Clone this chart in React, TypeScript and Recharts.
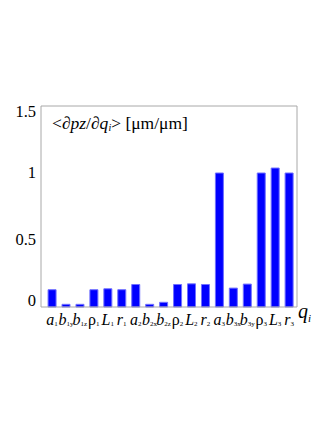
import { BarChart, Bar, XAxis, YAxis } from "recharts";

// parameter symbols and their subscripts
const letters = ["a", "b", "b", "ρ", "L", "r", "a", "b", "b", "ρ", "L", "r", "a", "b", "b", "ρ", "L", "r"];
const subs = ["1", "1y", "1z", "1", "1", "1", "2", "2x", "2z", "2", "2", "2", "3", "3x", "3y", "3", "3", "3"];
const values = [0.129, 0.02, 0.02, 0.129, 0.136, 0.129, 0.168, 0.02, 0.035, 0.168, 0.173, 0.168, 1.0, 0.141, 0.171, 1.0, 1.037, 1.0];
const yTicks = [0, 0.5, 1, 1.5];

const data = letters.map((l, i) => ({ key: `${l}${subs[i]}`, letter: l, sub: subs[i], value: values[i] }));

const serif = "'Liberation Serif', 'DejaVu Serif', serif";
const frame = "#a8a8a8";

const XTick = (props: any) => {
  const { x, y, index } = props;
  const d = data[index];
  const upright = d.letter === "ρ";
  return (
    <text x={x} y={y + 10} textAnchor="middle" style={{ fontFamily: serif }} fill="#000">
      <tspan fontSize={16} fontStyle={upright ? "normal" : "italic"}>{d.letter}</tspan>
      <tspan fontSize={7} dy={1}>{d.sub}</tspan>
    </text>
  );
};

const YTick = (props: any) => {
  const { y, payload } = props;
  const cy = Math.min(Math.max(y, 112), 301);
  return (
    <text x={36} y={cy + 5} textAnchor="end" style={{ fontFamily: serif }} fontSize={16.5} fill="#000">
      {String(payload.value)}
    </text>
  );
};

const App = () => {
  return (
    <div style={{ position: "absolute", left: 0, top: 0, width: 327, height: 423, background: "#fff", fontFamily: serif }}>
      <BarChart
        width={327}
        height={423}
        data={data}
        margin={{ top: 105, right: 29, left: 5, bottom: 86 }}
        barCategoryGap="22%"
      >
        <XAxis
          dataKey="key"
          interval={0}
          padding={{ left: 4, right: 1 }}
          axisLine={{ stroke: frame }}
          tickLine={false}
          tick={<XTick />}
          height={30}
        />
        <XAxis xAxisId="top" orientation="top" dataKey="key" axisLine={{ stroke: frame }} tick={false} tickLine={false} height={1} />
        <YAxis
          domain={[0, 1.5]}
          ticks={yTicks}
          axisLine={{ stroke: frame }}
          tickLine={false}
          tick={<YTick />}
          width={36}
        />
        <YAxis yAxisId="right" orientation="right" domain={[0, 1.5]} axisLine={{ stroke: frame }} tick={false} tickLine={false} width={1} />
        <Bar dataKey="value" fill="#0000ff" stroke="#7070ff" strokeWidth={1} isAnimationActive={false} />
        <text x={52} y={129} style={{ fontFamily: serif }} fontSize={17.5} fill="#000">
          <tspan>&lt;</tspan>
          <tspan fontStyle="italic">∂pz</tspan>
          <tspan>/</tspan>
          <tspan fontStyle="italic">∂q</tspan>
          <tspan fontSize={10} dy={2} fontStyle="italic">i</tspan>
          <tspan dy={-2}>&gt; [μm/μm]</tspan>
        </text>
        <text x={298} y={318} style={{ fontFamily: serif }} fontSize={20} fill="#000">
          <tspan fontStyle="italic">q</tspan>
          <tspan fontSize={11} dy={4} fontStyle="italic">i</tspan>
        </text>
      </BarChart>
    </div>
  );
};

export default App;
